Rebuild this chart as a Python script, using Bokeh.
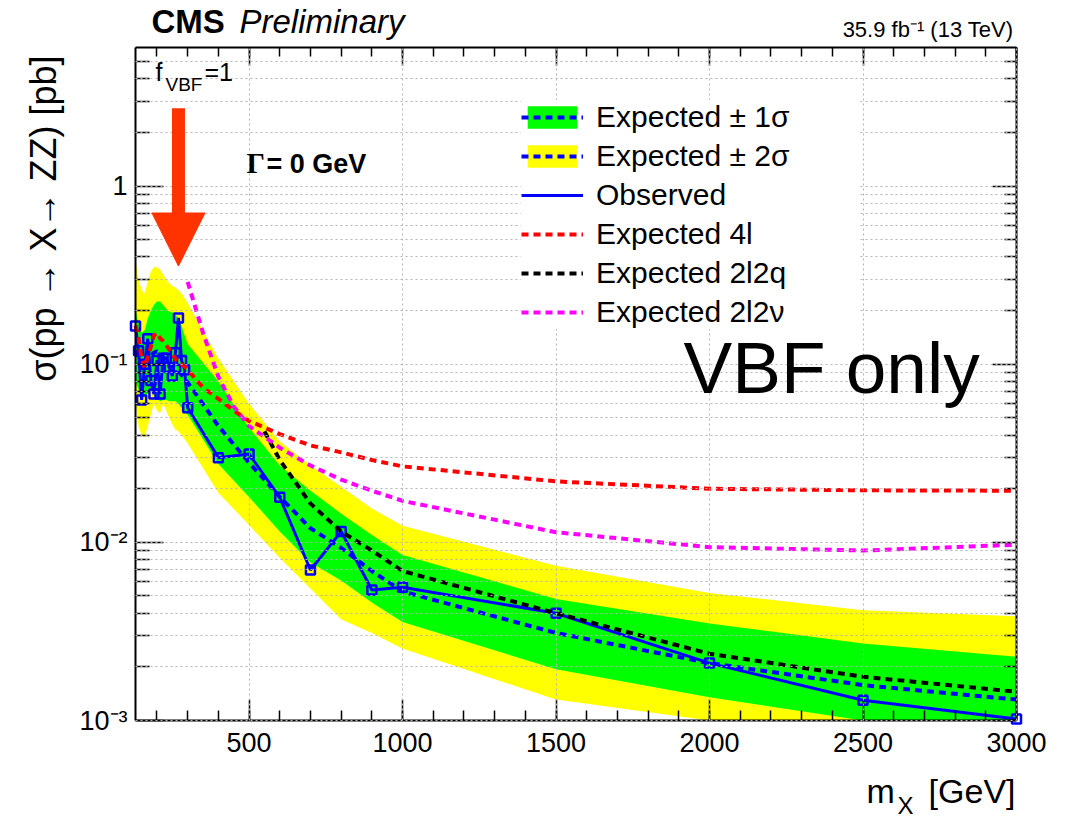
from math import log10, pi

import numpy as np
from bokeh.embed import file_html
from bokeh.models import (Arrow, FixedTicker, Label, Legend, LegendItem, LinearAxis,
                          LogAxis, NormalHead, Range1d, SingleIntervalTicker)
from bokeh.plotting import figure
from bokeh.resources import INLINE

# ---------------------------------------------------------------- data
# combined limit mass points [GeV]
mass = [130, 140, 150, 160, 170, 180, 190, 200, 210, 220, 230, 240, 250, 260,
        270, 280, 290, 300, 400, 500, 600, 700, 800, 900, 1000, 1500, 2000,
        2500, 3000]
observed = [0.164, 0.119, 0.063, 0.100, 0.139, 0.081, 0.068, 0.105, 0.068,
            0.108, 0.108, 0.096, 0.086, 0.116, 0.182, 0.105, 0.093, 0.057,
            0.0299, 0.0313, 0.0179, 0.0070, 0.0115, 0.0054, 0.0056, 0.0040,
            0.0021, 0.0013, 0.00102]
expected = [0.120, 0.105, 0.095, 0.097, 0.105, 0.112, 0.116, 0.118, 0.115,
            0.110, 0.105, 0.100, 0.097, 0.094, 0.091, 0.087, 0.083, 0.079,
            0.045, 0.028, 0.018, 0.0120, 0.0093, 0.0069, 0.0053, 0.0031,
            0.0021, 0.00158, 0.00131]
exp_m1s = [0.080, 0.072, 0.066, 0.066, 0.068, 0.070, 0.069, 0.065, 0.062,
           0.063, 0.063, 0.062, 0.062, 0.062, 0.060, 0.057, 0.054, 0.052,
           0.0275, 0.018, 0.0115, 0.0077, 0.0061, 0.0046, 0.00357, 0.00194,
           0.00135, 0.00100, 0.00085]
exp_p1s = [0.200, 0.170, 0.150, 0.155, 0.180, 0.200, 0.215, 0.225, 0.225,
           0.215, 0.205, 0.198, 0.195, 0.190, 0.180, 0.165, 0.145, 0.130,
           0.080, 0.044, 0.027, 0.0195, 0.0145, 0.0110, 0.0085, 0.00481,
           0.0035, 0.00271, 0.00228]
exp_m2s = [0.062, 0.045, 0.040, 0.039, 0.045, 0.052, 0.060, 0.055, 0.053,
           0.060, 0.055, 0.050, 0.046, 0.043, 0.042, 0.040, 0.038, 0.036,
           0.019, 0.0125, 0.0082, 0.0055, 0.0037, 0.0031, 0.00254, 0.00131,
           0.00093, 0.00065, 0.00055]
exp_p2s = [0.380, 0.300, 0.260, 0.250, 0.290, 0.330, 0.350, 0.350, 0.340,
           0.320, 0.300, 0.285, 0.275, 0.270, 0.260, 0.250, 0.235, 0.220,
           0.108, 0.060, 0.037, 0.027, 0.0205, 0.0155, 0.0124, 0.0074,
           0.0052, 0.00416, 0.00385]

# single-channel expected limits
mass_4l = [130, 140, 150, 160, 170, 180, 190, 200, 210, 220, 230, 240, 250,
           260, 270, 280, 290, 300, 350, 400, 450, 500, 600, 700, 800, 900,
           1000, 1500, 2000, 2500, 3000]
exp_4l = [0.165, 0.140, 0.108, 0.096, 0.110, 0.125, 0.145, 0.150, 0.140,
          0.135, 0.128, 0.121, 0.115, 0.107, 0.103, 0.100, 0.097, 0.093,
          0.074, 0.064, 0.055, 0.048, 0.0405, 0.035, 0.032, 0.029, 0.0267,
          0.0220, 0.0200, 0.0196, 0.0195]
mass_2l2q = [550, 600, 700, 800, 900, 1000, 1500, 2000, 2500, 3000]
exp_2l2q = [0.042, 0.029, 0.0165, 0.0115, 0.0090, 0.0069, 0.0040, 0.00237,
            0.00176, 0.00145]
mass_2l2nu = [300, 350, 400, 450, 500, 600, 700, 800, 900, 1000, 1500, 2000,
              2500, 3000]
exp_2l2nu = [0.29, 0.15, 0.085, 0.058, 0.045, 0.034, 0.027, 0.0225, 0.0195,
             0.0171, 0.0114, 0.0094, 0.0090, 0.0097]

X_MIN, X_MAX = 130, 3000
Y_MIN, Y_MAX = 0.001, 6.0
y_major = [0.001, 0.01, 0.1, 1.0]
y_labels = ["10\u207b\u00b3", "10\u207b\u00b2", "10\u207b\u00b9", "1"]
y_minor = [k * d for d in (0.001, 0.01, 0.1, 1.0) for k in range(2, 10)
           if k * d < Y_MAX]

# ---------------------------------------------------------------- geometry
# The canvas is the whole plotting area; the axes box is drawn with
# fixed-location axes so that texts around it are not clipped.
W, H = 1074, 819
BL, BR, BT, BB = 135, 1016, 47, 720          # axes box edges in canvas pixels

gev_per_px = (X_MAX - X_MIN) / (BR - BL)
x_lo = X_MIN - BL * gev_per_px
x_hi = X_MAX + (W - BR) * gev_per_px
dec_per_px = (log10(Y_MAX) - log10(Y_MIN)) / (BB - BT)
y_hi = 10 ** (log10(Y_MAX) + BT * dec_per_px)
y_lo = 10 ** (log10(Y_MIN) - (H - BB) * dec_per_px)

# ---------------------------------------------------------------- style
FONT = "Liberation Sans"
GREEN, YELLOW, BLUE = "#00ff00", "#ffff00", "#0000ff"
RED, MAGENTA, BLACK = "#ff0000", "#ff00ff", "#000000"
ARROW_C = "#ff3300"
DASH = "7 5"
GRID_C = "#b4b4b4"

p = figure(width=W, height=H, output_backend="svg", toolbar_location=None,
           y_axis_type="log", x_range=Range1d(x_lo, x_hi), y_range=Range1d(y_lo, y_hi),
           min_border=0, x_axis_location=None, y_axis_location=None)
p.outline_line_color = None
p.background_fill_color = "white"
p.border_fill_color = "white"

xt = SingleIntervalTicker(interval=500, num_minor_ticks=5)
yt = FixedTicker(ticks=y_major, minor_ticks=y_minor)


def make_axis(cls, ticker, where, bounds, maj, mnr, labels=True):
    ax = cls(ticker=ticker, fixed_location=where, bounds=bounds)
    ax.axis_line_color = "black"
    ax.axis_line_width = 2
    ax.major_tick_line_color = "black"
    ax.minor_tick_line_color = "black"
    ax.major_tick_line_width = 1.5
    ax.minor_tick_line_width = 1.5
    ax.major_tick_in = maj
    ax.major_tick_out = 0
    ax.minor_tick_in = mnr
    ax.minor_tick_out = 0
    ax.major_label_text_font = FONT
    ax.major_label_text_color = "black"
    if not labels:
        ax.major_label_text_font_size = "8px"
        ax.major_label_text_alpha = 0.0
        ax.major_label_standoff = 2
    return ax


xb = make_axis(LinearAxis, xt, Y_MIN, (X_MIN, X_MAX), 21, 10)
xb.major_label_text_font_size = "27px"
xb.major_label_standoff = 12
p.add_layout(xb, "below")

xa = make_axis(LinearAxis, xt, Y_MAX, (X_MIN, X_MAX), 18, 9, labels=False)
p.add_layout(xa, "above")

yl = make_axis(LogAxis, yt, X_MIN, (Y_MIN, Y_MAX), 28, 14)
yl.major_label_text_font_size = "27px"
yl.major_label_standoff = 8
yl.major_label_overrides = dict(zip(y_major, y_labels))
p.add_layout(yl, "left")

yr = make_axis(LogAxis, yt, X_MAX, (Y_MIN, Y_MAX), 24, 12, labels=False)
p.add_layout(yr, "right")

# dotted grid inside the axes box, drawn over the bands
xg, yg = p.xgrid[0], p.ygrid[0]
xg.ticker, yg.ticker = xt, yt
xg.bounds, yg.bounds = (X_MIN, X_MAX), (Y_MIN, Y_MAX)
if "cross_bounds" in xg.properties():
    xg.cross_bounds = (Y_MIN, Y_MAX)
    yg.cross_bounds = (X_MIN, X_MAX)
for g in (xg, yg):
    g.grid_line_color = GRID_C
    g.grid_line_dash = "2 3"
    g.grid_line_width = 1
    g.level = "guide"
yg.minor_grid_line_color = GRID_C
yg.minor_grid_line_dash = "2 3"
yg.minor_grid_line_width = 1

# ---------------------------------------------------------------- bands & curves
# band edges below the axis floor are held at the floor
m2s = np.maximum(exp_m2s, Y_MIN)
m1s = np.maximum(exp_m1s, Y_MIN)
band2 = p.varea(x=mass, y1=m2s, y2=exp_p2s, fill_color=YELLOW)
band1 = p.varea(x=mass, y1=m1s, y2=exp_p1s, fill_color=GREEN)
med = p.line(mass, expected, line_color=BLUE, line_width=4, line_dash=DASH)
obs_l = p.line(mass, observed, line_color=BLUE, line_width=3)
p.scatter(mass, observed, marker="square", size=9, line_color=BLUE,
          line_width=2.5, fill_color=None)
l4l = p.line(mass_4l, exp_4l, line_color=RED, line_width=4, line_dash=DASH)
l2q = p.line(mass_2l2q, exp_2l2q, line_color=BLACK, line_width=4, line_dash=DASH)
l2nu = p.line(mass_2l2nu, exp_2l2nu, line_color=MAGENTA, line_width=4, line_dash=DASH)

legend = Legend(items=[
    LegendItem(label="Expected \u00b1 1\u03c3", renderers=[band1, med]),
    LegendItem(label="Expected \u00b1 2\u03c3", renderers=[band2, med]),
    LegendItem(label="Observed", renderers=[obs_l]),
    LegendItem(label="Expected 4l", renderers=[l4l]),
    LegendItem(label="Expected 2l2q", renderers=[l2q]),
    LegendItem(label="Expected 2l2\u03bd", renderers=[l2nu]),
], location=(521, 490))
legend.label_text_font = FONT
legend.label_text_font_size = "30px"
legend.label_text_color = "black"
legend.glyph_width = 62
legend.glyph_height = 28
legend.label_height = 28
legend.label_width = 262
legend.label_standoff = 13
legend.spacing = 5
legend.padding = 8
legend.margin = 0
legend.border_line_color = None
legend.background_fill_color = "white"
legend.background_fill_alpha = 1.0
p.add_layout(legend)

# signal-mass arrow
ARROW_MASS, ARROW_TOP, ARROW_TIP = 270, 2.74, 0.356
p.add_layout(Arrow(end=NormalHead(size=53, fill_color=ARROW_C, line_color=ARROW_C,
                                  line_width=1),
                   x_start=ARROW_MASS, y_start=ARROW_TOP,
                   x_end=ARROW_MASS, y_end=ARROW_TIP,
                   line_color=ARROW_C, line_width=13))


# ---------------------------------------------------------------- texts
BASE_SHIFT = 0.42   # baseline correction of the label anchor, in em


def add_text(txt, px, py, size, font=FONT, style="normal", align="left", angle=0.0):
    # px, py: baseline anchor in canvas pixels from the top-left corner
    if angle:
        px -= BASE_SHIFT * size
    else:
        py -= BASE_SHIFT * size
    p.add_layout(Label(x=px, y=H - py, x_units="screen", y_units="screen",
                       text=txt, text_font=font, text_font_size=f"{size}px",
                       text_font_style=style, text_align=align,
                       text_baseline="alphabetic", text_color="black", angle=angle))


add_text("CMS", 151, 35, 33, style="bold")
add_text("Preliminary", 239, 35, 33, style="italic")
add_text("35.9 fb\u207b\u00b9 (13 TeV)", 1013, 38, 22, align="right")

add_text("f", 155, 82, 25)
add_text("VBF", 165, 92, 19)
add_text("=1", 204, 82, 25)

add_text("\u0393", 246, 175, 29, font="Liberation Serif", style="bold")
add_text("= 0 GeV", 266, 175, 27, style="bold")

add_text("VBF only", 683, 398, 73)

# axis titles
add_text("m", 866, 805, 34)
add_text("X", 897, 815, 24)
add_text("[GeV]", 1015, 805, 34, align="right")
add_text("\u03c3(pp \u2192 X\u2192 ZZ) [pb]", 58, 55, 36, align="right", angle=pi / 2)

open("out.html", "w").write(file_html(p, INLINE))
